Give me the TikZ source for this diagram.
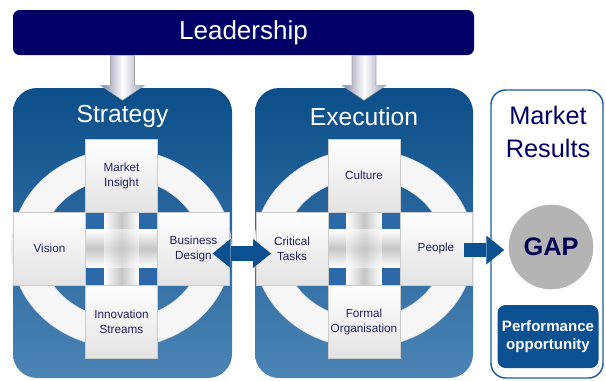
\documentclass[tikz,border=0pt]{standalone}
\usepackage{fontspec}
\setmainfont{Liberation Sans}
\usetikzlibrary{positioning,calc,arrows.meta,shadows}
\definecolor{leadnavy}{HTML}{000066}
\definecolor{paneltop}{HTML}{0B4E89}
\definecolor{panelbot}{HTML}{4C84B5}
\definecolor{hubblue}{HTML}{2C69A8}
\definecolor{celltext}{HTML}{202060}
\definecolor{resline}{HTML}{1F5C9C}
\definecolor{perfblue}{HTML}{0B5090}
\definecolor{arrgrayl}{HTML}{7E7EA0}
\definecolor{arrgrayr}{HTML}{9A9AB8}
\definecolor{gapgray}{HTML}{B4B4B4}
\tikzset{panel/.style={rounded corners=18pt, top color=paneltop, bottom color=panelbot, minimum height=217.5pt, inner sep=0pt}}
\tikzset{title/.style={text=white, font=\fontsize{18.5}{22}\selectfont}}
\tikzset{cell/.style={rectangle, minimum width=54pt, minimum height=54.75pt, inner sep=1pt, outer sep=0pt, align=center, top color=white, bottom color=gray!22, draw=gray!40, text=celltext, font=\fontsize{8.8}{11.25}\selectfont, drop shadow={shadow xshift=0.6pt, shadow yshift=-0.9pt, opacity=0.35}}}
\tikzset{hub/.style={rectangle, minimum width=54pt, minimum height=54.75pt, inner sep=0pt, outer sep=0pt, fill=hubblue}}
\tikzset{ring/.style={fill=gray!7, draw=gray!30, even odd rule}}
\tikzset{hbar/.style={top color=white, bottom color=white, middle color=gray!45}}
\tikzset{vbar/.style={left color=white, right color=white, middle color=gray!45}}
\tikzset{leadarrow/.style={left color=arrgrayl, right color=arrgrayr, middle color=white, draw=gray!70, line width=0.4pt}}
\tikzset{bigtip/.tip={Triangle[length=13.5pt, width=21.75pt, line width=0pt]}}
\tikzset{bigarr/.style={draw=perfblue, line width=10.9pt, line cap=butt}}
\begin{document}
\begin{tikzpicture}[x=0.75pt, y=-0.75pt]
\useasboundingbox (0,0) rectangle (606,380);
% leadership bar
\node[fill=leadnavy, rounded corners=5pt, minimum width=345.75pt, minimum height=33.75pt, text=white, font=\fontsize{19.5}{22}\selectfont] (ld) at (243.5,32.5) {Leadership};
% panels
\node[panel, minimum width=164.25pt] (sp) at (122.5,233) {};
\node[panel, minimum width=163.5pt] (ep) at (364,233) {};
\node[title] (st) at (122.5,116) {Strategy};
\node[title] (et) at (364,117) {Execution};
% hubs, rings and crosses
\node[hub] (sc) at (121.5,248.5) {};
\node[hub] (ec) at (364,248.5) {};
\foreach \c in {sc,ec} {
  \draw[ring] (\c) ellipse [x radius=110, y radius=99] (\c) ellipse [x radius=80, y radius=70];
  \shade[vbar] ([xshift=-13.1pt]\c.north) rectangle ([xshift=13.1pt]\c.south);
  \shade[hbar] ([yshift=13.9pt]\c.west) rectangle ([yshift=-13.9pt]\c.east);
  \shade[vbar, opacity=0.5] ([xshift=-13.1pt, yshift=13.9pt]\c.center) rectangle ([xshift=13.1pt, yshift=-13.9pt]\c.center);
}
% strategy cells
\node[cell, above=0pt of sc] (mi) {Market\\Insight};
\node[cell, left=0pt of sc] (vi) {Vision};
\node[cell, right=0pt of sc] (bd) {Business\\Design};
\node[cell, below=0pt of sc] (is) {Innovation\\Streams};
% execution cells
\node[cell, above=0pt of ec] (cu) {Culture};
\node[cell, left=0pt of ec] (ct) {Critical\\Tasks};
\node[cell, right=0pt of ec] (pe) {People};
\node[cell, below=0pt of ec] (fo) {Formal\\Organisation};
% arrows from leadership
\foreach \p in {sp,ep}
  \shade[leadarrow] ($(ld.south -| \p.north)+(-12,0)$) -- ++(0,30) -- ++(-10,0) -- ++(22,15) -- ++(22,-15) -- ++(-10,0) -- ++(0,-30) -- cycle;
% market results
\node[draw=resline, line width=1.1pt, rounded corners=11pt, fill=white, minimum width=84pt, minimum height=216pt] (mr) at (547,234) {};
\node[align=center, text=leadnavy, font=\fontsize{19}{24.75}\selectfont] (mt) at (548,131.5) {Market\\Results};
\node[circle, fill=gapgray, draw=gray!60, minimum size=63pt, text=leadnavy!80!black, font=\bfseries\fontsize{19}{22}\selectfont] (gap) at (551,247) {GAP};
\node[fill=perfblue, rounded corners=6pt, minimum width=72pt, minimum height=47.25pt, align=center, text=white, font=\bfseries\fontsize{11.3}{13}\selectfont] (po) at (548,336.5) {Performance\\opportunity};
% connectors
\draw[bigarr, bigtip-bigtip] ($(bd.east)+(-17,5)$) -- ($(ct.west)+(15,5)$);
\draw[bigarr, -bigtip] ($(pe.east)+(-8,1.5)$) -- ($(pe.east -| mr.west)+(14,1.5)$);
\end{tikzpicture}
\end{document}
